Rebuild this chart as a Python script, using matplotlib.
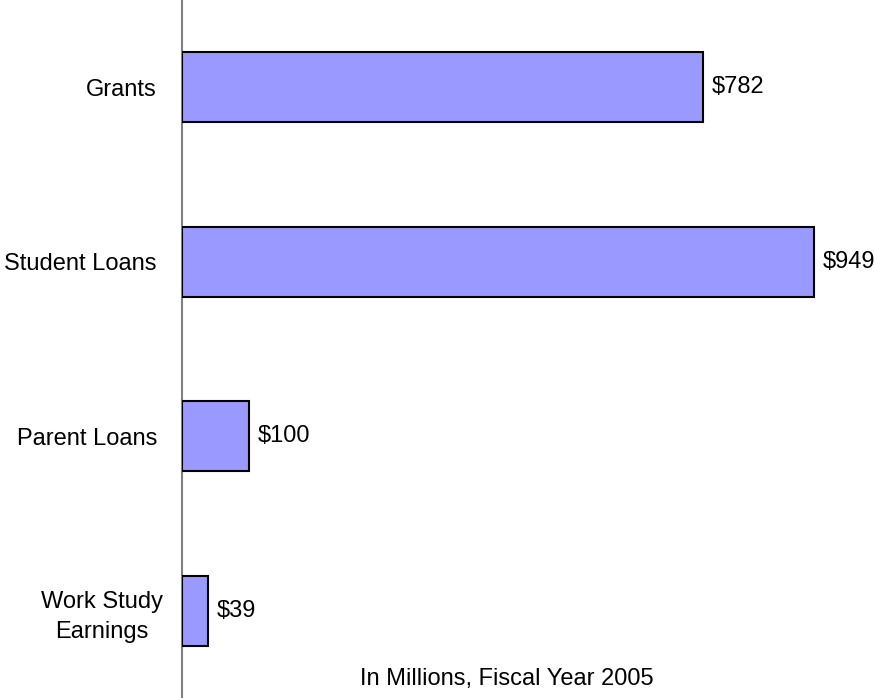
import matplotlib
matplotlib.use("Agg")
import matplotlib.pyplot as plt
from matplotlib.transforms import ScaledTranslation

categories = ["Grants", "Student Loans", "Parent Loans", "Work Study\nEarnings"]
values = [782, 949, 100, 39]
value_labels = ["$782", "$949", "$100", "$39"]
note = "In Millions, Fiscal Year 2005"

plt.rcParams['font.family'] = ['Liberation Sans', 'DejaVu Sans']

W, H = 874, 698
FS = 17
fig = plt.figure(figsize=(W/100, H/100), dpi=100)
ax = fig.add_axes([182/W, 0, 666/W, 1])

ypos = list(range(len(categories)))
ax.barh(ypos, values, height=0.4, color="#9999FF", edgecolor="black", linewidth=1.5, zorder=3)
ax.set_xlim(0, 1000)
ax.set_ylim(3.5, -0.5)

for y, v, lab in zip(ypos, values, value_labels):
    ax.annotate(lab, (v, y), xytext=(6.5, 0), textcoords="offset points",
                va="center", ha="left", fontsize=FS)

ax.set_yticks(ypos)
ax.set_yticklabels(categories, fontsize=FS, multialignment="center", linespacing=1.45)
ax.tick_params(axis="y", length=0, pad=18)
ax.set_xticks([])
for s in ["top", "right", "bottom"]:
    ax.spines[s].set_visible(False)
ax.spines["left"].set_color("#808080")
ax.spines["left"].set_linewidth(1.5)

# Excel centers the wrapped label in its box: nudge it right a little
lbl = ax.get_yticklabels()[3]
lbl.set_transform(lbl.get_transform() + ScaledTranslation(6/100, 0, fig.dpi_scale_trans))

fig.text(507/W, 1 - 679/H, note, ha="center", va="center", fontsize=FS)

fig.savefig("out.png", dpi=100)
